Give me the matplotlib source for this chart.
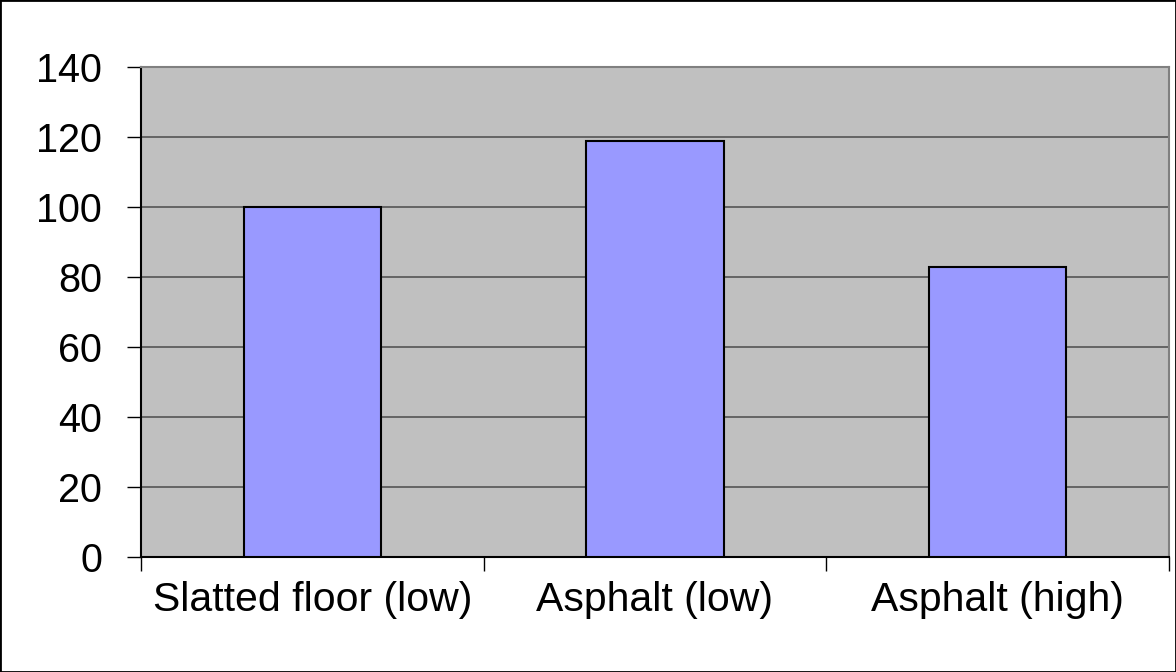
import matplotlib.pyplot as plt
from matplotlib.patches import Rectangle

plt.rcParams['font.family'] = ['Liberation Sans', 'DejaVu Sans']

categories = ['Slatted floor (low)', 'Asphalt (low)', 'Asphalt (high)']
values = [100, 119, 83]
y_ticks = [0, 20, 40, 60, 80, 100, 120, 140]

fig = plt.figure(figsize=(11.76, 6.72), dpi=100)
ax = fig.add_axes([0.1199, 0.1711, 0.8741, 0.7289])
ax.set_facecolor('#c0c0c0')

x = list(range(len(categories)))
ax.bar(x, values, width=0.4, color='#9999ff', edgecolor='black', linewidth=1.5, zorder=3)

ax.set_xlim(-0.5, len(categories) - 0.5)
ax.set_ylim(0, 140)
ax.set_yticks(y_ticks)
ax.yaxis.grid(True, color='#555555', linewidth=1.2, zorder=1)

# category ticks sit on boundaries, labels in the middle
ax.set_xticks([i - 0.5 for i in range(len(categories) + 1)])
ax.set_xticklabels([])
ax.set_xticks(x, minor=True)
ax.set_xticklabels(categories, minor=True)
ax.tick_params(axis='x', which='major', direction='out', length=10, width=1, color='black')
ax.tick_params(axis='x', which='minor', length=0, pad=17, labelsize=29.5)
ax.tick_params(axis='y', direction='out', length=10, width=1, pad=18, labelsize=28.5)

ax.spines['left'].set_color('black')
ax.spines['bottom'].set_color('black')
ax.spines['top'].set_color('#808080')
ax.spines['right'].set_color('#808080')
for s in ax.spines.values():
    s.set_linewidth(1.5)

fig.patches.append(Rectangle((0, 0), 1, 1, transform=fig.transFigure,
                             fill=False, edgecolor='black', linewidth=2))

fig.savefig('out.png', dpi=100)
